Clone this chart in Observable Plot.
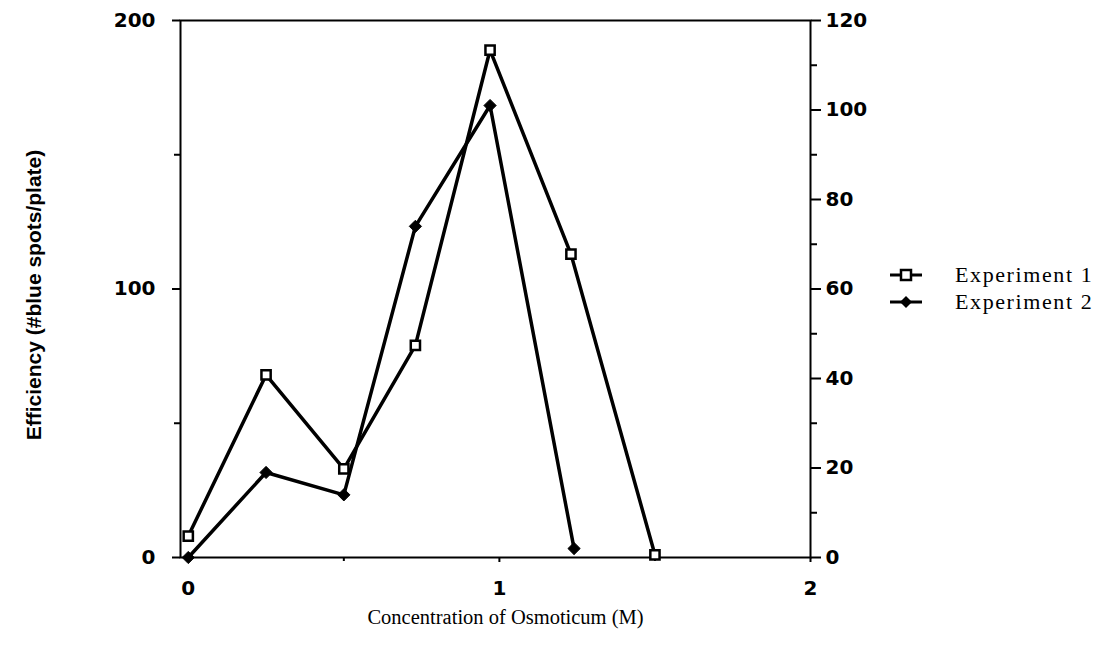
<!DOCTYPE html>
<html>
<head>
<meta charset="utf-8">
<script src="https://cdn.jsdelivr.net/npm/d3@7"></script>
<script src="https://cdn.jsdelivr.net/npm/@observablehq/plot@0.6"></script>
<style>
  html, body { margin: 0; padding: 0; background: #fff; }
  #wrap { position: relative; width: 1097px; height: 647px; overflow: hidden; }
  #legend { position: absolute; left: 888px; top: 261px; font-family: "Liberation Serif", serif; font-size: 22px; letter-spacing: 1.6px; color: #000; }
  #legend .row { display: flex; align-items: center; height: 27px; }
  #legend svg { margin-right: 31px; }
</style>
</head>
<body>
<div id="wrap"></div>
<script>
// Experiment 1 (left axis, squares)
const conc1 = [0, 0.25, 0.5, 0.73, 0.97, 1.23, 1.5];
const exp1  = [8, 68, 33, 79, 189, 113, 1];
// Experiment 2 (right axis, diamonds)
const conc2 = [0, 0.25, 0.5, 0.73, 0.97, 1.24];
const exp2  = [0, 19, 14, 74, 101, 2];

const xTicks = [0, 1, 2];
const xMinor = [0.5, 1.5];
const leftTicks = [0, 100, 200];
const leftMinor = [50, 150];
const rightTicks = [0, 20, 40, 60, 80, 100, 120];
const rightMinor = [10, 30, 50, 70, 90, 110];

const seriesNames = ["Experiment 1", "Experiment 2"];
const yLabel = "Efficiency (#blue spots/plate)";
const xLabel = "Concentration of Osmoticum (M)";

const toLeft = v => v * 200 / 120;

const d1 = conc1.map((c, i) => ({x: c, y: exp1[i]}));
const d2 = conc2.map((c, i) => ({x: c, y: toLeft(exp2[i])}));

const tickFont = {fontFamily: "DejaVu Sans", fontWeight: "bold", fontSize: 20};

const chart = Plot.plot({
  width: 1097,
  height: 647,
  marginLeft: 180,
  marginRight: 287,
  marginTop: 20,
  marginBottom: 90,
  style: {background: "white", color: "black", fontFamily: "DejaVu Sans", fontWeight: "bold", fontSize: "20px"},
  x: {domain: [-0.025, 2], axis: null},
  y: {domain: [0, 200], axis: null},
  marks: [
    Plot.frame({stroke: "black", strokeWidth: 2}),
    Plot.axisX(xTicks, {tickSize: 5, tickPadding: 18, strokeWidth: 2, label: null, tickFormat: d => String(d), ...tickFont}),
    Plot.axisX(xMinor, {tickSize: 4, strokeWidth: 2, label: null, tickFormat: () => ""}),
    Plot.axisY(leftTicks, {anchor: "left", tickSize: 8, tickPadding: 17, strokeWidth: 2, label: null, tickFormat: d => String(d), ...tickFont}),
    Plot.axisY(leftMinor, {anchor: "left", tickSize: 6, strokeWidth: 2, label: null, tickFormat: () => ""}),
    Plot.axisY(rightTicks.map(toLeft), {anchor: "right", tickSize: 10, tickPadding: 5, strokeWidth: 2, label: null,
      tickFormat: d => String(Math.round(d * 120 / 200)), ...tickFont}),
    Plot.axisY(rightMinor.map(toLeft), {anchor: "right", tickSize: 6, strokeWidth: 2, label: null, tickFormat: () => ""}),
    Plot.line(d1, {x: "x", y: "y", stroke: "black", strokeWidth: 3.5}),
    Plot.line(d2, {x: "x", y: "y", stroke: "black", strokeWidth: 3.5}),
    Plot.dot(d2, {x: "x", y: "y", symbol: "diamond2", r: 5.5, fill: "black", stroke: "black", strokeWidth: 1}),
    Plot.dot(d1, {x: "x", y: "y", symbol: "square", r: 5.2, fill: "white", stroke: "black", strokeWidth: 2.5}),
    Plot.text([yLabel], {text: d => d, frameAnchor: "left", textAnchor: "middle", lineAnchor: "middle", dx: -146, dy: 6, rotate: -90,
      fontFamily: "Liberation Sans", fontWeight: "bold", fontSize: 21}),
    Plot.text([xLabel], {text: d => d, frameAnchor: "bottom", textAnchor: "middle", lineAnchor: "middle", dx: 10, dy: 60,
      fontFamily: "Liberation Serif", fontWeight: "normal", fontSize: 20.5})
  ]
});

const wrap = document.getElementById("wrap");
wrap.appendChild(chart);

// Legend
const legend = document.createElement("div");
legend.id = "legend";
const sq = '<svg width="36" height="16"><line x1="2" y1="8" x2="34" y2="8" stroke="black" stroke-width="3"/><rect x="13" y="3" width="10" height="10" fill="white" stroke="black" stroke-width="2.5"/></svg>';
const dm = '<svg width="36" height="16"><line x1="2" y1="8" x2="34" y2="8" stroke="black" stroke-width="3"/><path d="M18,2 L24,8 L18,14 L12,8 Z" fill="black"/></svg>';
legend.innerHTML = seriesNames.map((n, i) => `<div class="row">${i === 0 ? sq : dm}<span>${n}</span></div>`).join("");
wrap.appendChild(legend);
</script>
</body>
</html>
